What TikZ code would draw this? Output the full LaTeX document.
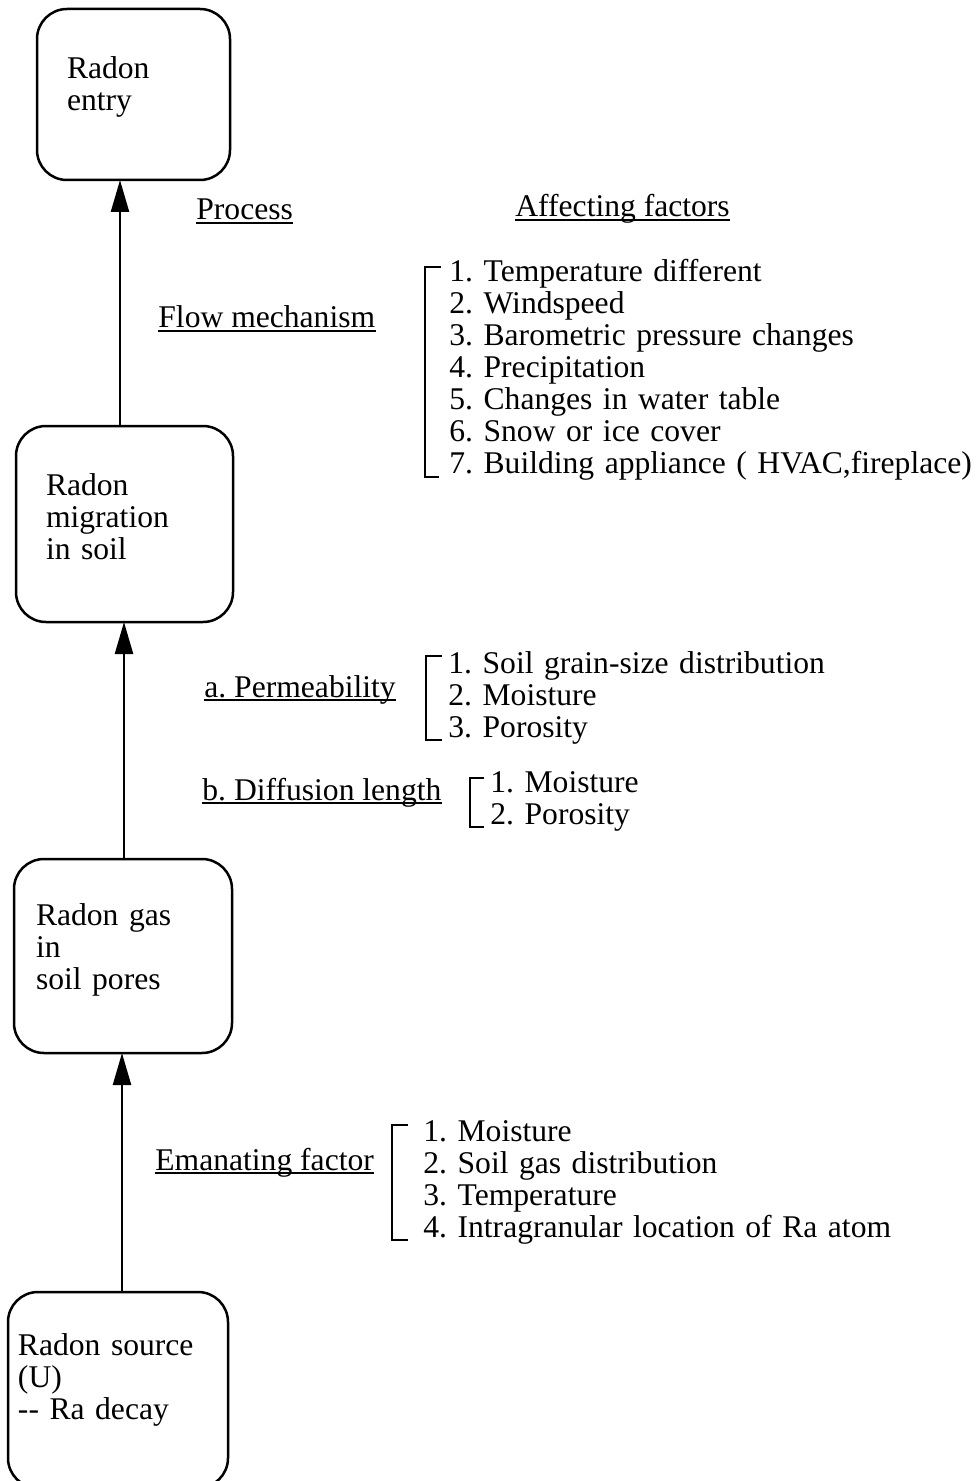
\documentclass[tikz,border=0pt]{standalone}
\usepackage{fontspec}
\setmainfont{Liberation Serif}
\usetikzlibrary{arrows.meta}

\begin{document}
\begin{tikzpicture}[x=0.5pt, y=-0.5pt,
  font=\fontsize{15.8pt}{16pt}\selectfont\frenchspacing,
  stage/.style={draw, line width=1.25pt, rounded corners=15pt, anchor=north west, align=left, inner ysep=0pt, outer sep=0pt},
  flow/.style={-{Triangle[length=16pt, width=9pt]}, line width=1.2pt},
  heading/.style={anchor=base west, inner sep=0pt},
  factors/.style={anchor=base west, inner sep=0pt, align=left, text width=280pt},
  uline/.style={line width=0.8pt},
  bracket/.style={line width=1pt}]
\useasboundingbox (0,0) rectangle (978,1481);
% stages
\node[stage, inner xsep=15pt, text width=66.5pt, text height=35pt, text depth=50.5pt] (entry) at (37,9) {Radon\\entry};
\node[stage, inner xsep=15pt, text width=78.5pt, text height=34.5pt, text depth=63.5pt] (migr) at (16,426) {Radon\\migration\\in soil};
\node[stage, inner xsep=11pt, text width=87pt, text height=33pt, text depth=64pt] (pores) at (14,859) {Radon gas\\in\\soil pores};
\node[stage, inner xsep=5pt, text width=100pt, text height=31.5pt, text depth=66.5pt] (source) at (8,1292) {Radon source\\(U)\\-{}- Ra decay};
\path [flow] ([xshift=-2.25pt]migr.north) edge ([xshift=-6.75pt]entry.south);
\path [flow] ([xshift=0.5pt]pores.north) edge ([xshift=-0.25pt]migr.south);
\path [flow] ([xshift=2pt]source.north) edge ([xshift=-0.5pt]pores.south);
% headings
\node[heading] (proc) at (196,220) {Process};
\node[heading] (affect) at (515,217) {Affecting factors};
\node[heading] (flowmech) at (158,328) {Flow mechanism};
\node[heading] (perm) at (204,697) {a. Permeability};
\node[heading] (diff) at (202,800) {b. Diffusion length};
\node[heading] (eman) at (155,1170) {Emanating factor\ };
\draw[uline] ([yshift=-1.5pt]proc.base west) -- ([yshift=-1.5pt]proc.base east);
\draw[uline] ([yshift=-1.5pt]affect.base west) -- ([yshift=-1.5pt]affect.base east);
\draw[uline] ([yshift=-1.5pt]flowmech.base west) -- ([yshift=-1.5pt]flowmech.base east);
\draw[uline] ([yshift=-1.5pt]perm.base west) -- ([yshift=-1.5pt]perm.base east);
\draw[uline] ([yshift=-1.5pt]diff.base west) -- ([yshift=-1.5pt]diff.base east);
\draw[uline] ([yshift=-1.5pt]eman.base west) -- ([yshift=-1.5pt]eman.base east);
% factor lists
\node[factors] (flowlist) at (449,282) {1. Temperature different\\2. Windspeed\\3. Barometric pressure changes\\4. Precipitation\\5. Changes in water table\\6. Snow or ice cover\\7. Building appliance ( HVAC,fireplace)};
\node[factors] (permlist) at (448,673) {1. Soil grain-size distribution\\2. Moisture\\3. Porosity};
\node[factors] (difflist) at (490,792) {1. Moisture\\2. Porosity};
\node[factors] (emanlist) at (423,1141) {1. Moisture\\2. Soil gas distribution\\3. Temperature\\4. Intragranular location of Ra atom};
\draw[bracket] (441,267) -| (425,477) -- (439,477);
\draw[bracket] (442,656) -| (426,740) -- (442,740);
\draw[bracket] (484,778) -| (470,827) -- (484,827);
\draw[bracket] (408,1125) -| (392,1240) -- (408,1240);
\end{tikzpicture}
\end{document}
